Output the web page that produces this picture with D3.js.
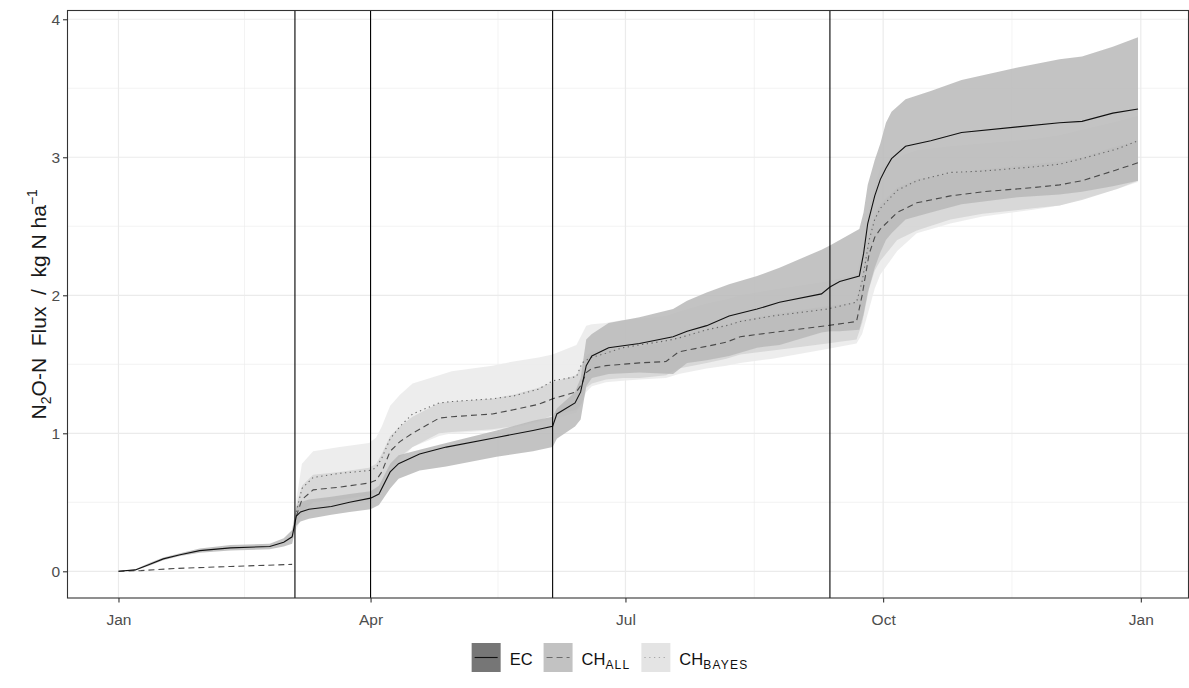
<!DOCTYPE html>
<html>
<head>
<meta charset="utf-8">
<script src="https://cdn.jsdelivr.net/npm/d3@7"></script>
<style>
  body { margin: 0; background: #fff; }
  svg { display: block; font-family: "Liberation Sans", Arial, sans-serif; }
</style>
</head>
<body>
<svg id="chart" width="1189" height="688"></svg>
<script>
// ---- data (day of year 2017, cumulative N2O-N flux in kg N/ha) ----
const ecDay = [0, 6, 11, 16, 22, 29, 40, 54, 59, 62, 63.5, 65, 68, 76, 82.5, 90, 93, 97, 100, 107.5,
  117, 135, 148, 155, 156.5, 163, 165, 167, 169, 175, 186, 198, 203, 210, 218, 228, 236, 251, 254,
  257.5, 264.5, 266, 267.5, 270, 272, 274, 276, 281, 290, 301, 321, 336, 344, 355, 364];
const ecMid = [0, 0.01, 0.05, 0.09, 0.12, 0.15, 0.17, 0.18, 0.21, 0.25, 0.40, 0.43, 0.45, 0.47, 0.50, 0.53, 0.56, 0.72, 0.78, 0.85,
  0.90, 0.97, 1.02, 1.05, 1.14, 1.22, 1.30, 1.49, 1.56, 1.62, 1.65, 1.70, 1.74, 1.78, 1.85, 1.90, 1.95, 2.01, 2.06,
  2.10, 2.14, 2.30, 2.52, 2.72, 2.84, 2.92, 2.99, 3.08, 3.12, 3.18, 3.22, 3.25, 3.26, 3.32, 3.35];
const ecLo = [0, 0.005, 0.04, 0.08, 0.11, 0.135, 0.15, 0.16, 0.18, 0.20, 0.33, 0.36, 0.38, 0.41, 0.43, 0.45, 0.48, 0.60, 0.67, 0.73,
  0.76, 0.83, 0.87, 0.90, 0.96, 1.05, 1.10, 1.34, 1.40, 1.43, 1.44, 1.43, 1.51, 1.53, 1.56, 1.62, 1.64, 1.73, 1.74,
  1.74, 1.75, 1.86, 2.02, 2.20, 2.31, 2.40, 2.45, 2.55, 2.60, 2.66, 2.71, 2.73, 2.75, 2.79, 2.83];
const ecHi = [0, 0.015, 0.06, 0.10, 0.13, 0.165, 0.19, 0.20, 0.24, 0.30, 0.47, 0.50, 0.52, 0.54, 0.56, 0.58, 0.62, 0.78, 0.84, 0.88,
  0.93, 1.02, 1.09, 1.12, 1.18, 1.30, 1.40, 1.68, 1.72, 1.80, 1.84, 1.90, 1.96, 2.02, 2.08, 2.14, 2.20, 2.33, 2.36,
  2.40, 2.48, 2.60, 2.80, 2.98, 3.10, 3.25, 3.33, 3.42, 3.48, 3.56, 3.65, 3.71, 3.73, 3.80, 3.87];

// chamber estimates; null = no value (gap at the first fertilisation)
const chDay = [0, 8, 20, 40, 62, 62.8, 63.5, 65.5, 69.5, 79, 89.5, 92, 94, 97, 100.5, 105, 114.5, 119, 133.5,
  141, 150, 155, 163.5, 165.5, 167, 169, 174, 180, 186, 195.5, 200, 210, 217, 222, 233.5, 253, 263.5,
  265.5, 268, 270, 272, 278, 285, 297, 308.5, 326.5, 336, 344, 356.5, 364];
const allMid = [0, 0.005, 0.02, 0.035, 0.05, null, 0.40, 0.52, 0.59, 0.61, 0.64, 0.66, 0.72, 0.87, 0.94, 1.00, 1.11, 1.12, 1.14,
  1.17, 1.21, 1.25, 1.30, 1.36, 1.44, 1.47, 1.49, 1.50, 1.51, 1.52, 1.59, 1.63, 1.66, 1.70, 1.73, 1.78, 1.81,
  2.00, 2.30, 2.42, 2.48, 2.60, 2.67, 2.72, 2.75, 2.78, 2.80, 2.83, 2.91, 2.96];
const allLo = [null, null, null, null, null, null, 0.33, 0.43, 0.50, 0.52, 0.55, 0.57, 0.62, 0.75, 0.83, 0.90, 1.00, 1.01, 1.03,
  1.05, 1.09, 1.13, 1.17, 1.22, 1.33, 1.36, 1.39, 1.40, 1.40, 1.42, 1.47, 1.51, 1.54, 1.57, 1.60, 1.65, 1.68,
  1.80, 2.05, 2.18, 2.25, 2.40, 2.47, 2.55, 2.59, 2.63, 2.65, 2.69, 2.77, 2.83];
const allHi = [null, null, null, null, null, null, 0.48, 0.62, 0.70, 0.72, 0.75, 0.78, 0.85, 0.98, 1.05, 1.12, 1.22, 1.23, 1.25,
  1.28, 1.33, 1.37, 1.42, 1.50, 1.56, 1.59, 1.61, 1.62, 1.63, 1.66, 1.70, 1.75, 1.78, 1.82, 1.86, 1.92, 1.95,
  2.15, 2.45, 2.58, 2.66, 2.78, 2.84, 2.88, 2.91, 2.95, 2.97, 3.00, 3.08, 3.12];
const bayMid = [null, null, null, null, null, null, 0.43, 0.60, 0.68, 0.71, 0.73, 0.75, 0.82, 0.96, 1.05, 1.14, 1.22, 1.23, 1.25,
  1.27, 1.32, 1.38, 1.41, 1.51, 1.53, 1.55, 1.58, 1.62, 1.64, 1.67, 1.69, 1.75, 1.78, 1.81, 1.85, 1.90, 1.95,
  2.10, 2.40, 2.55, 2.63, 2.76, 2.83, 2.89, 2.90, 2.93, 2.95, 2.99, 3.06, 3.12];
const bayLo = [null, null, null, null, null, null, 0.30, 0.40, 0.45, 0.48, 0.50, 0.53, 0.60, 0.72, 0.80, 0.90, 0.98, 1.00, 1.02,
  1.04, 1.08, 1.10, 1.15, 1.22, 1.30, 1.34, 1.37, 1.38, 1.39, 1.40, 1.43, 1.47, 1.49, 1.51, 1.54, 1.61, 1.65,
  1.72, 1.90, 2.05, 2.15, 2.32, 2.45, 2.52, 2.57, 2.62, 2.65, 2.70, 2.77, 2.82];
const bayHi = [null, null, null, null, null, null, 0.52, 0.78, 0.87, 0.90, 0.93, 0.97, 1.05, 1.20, 1.28, 1.36, 1.42, 1.45, 1.49,
  1.52, 1.55, 1.57, 1.64, 1.72, 1.78, 1.79, 1.80, 1.82, 1.83, 1.85, 1.88, 1.94, 1.97, 2.00, 2.04, 2.10, 2.15,
  2.32, 2.62, 2.80, 2.92, 3.00, 3.05, 3.08, 3.10, 3.13, 3.16, 3.20, 3.26, 3.30];

// management events (vertical lines)
const eventDates = ["2017-03-05", "2017-04-01", "2017-06-05", "2017-09-12"];
const yTicks = [0, 1, 2, 3, 4];
const yMinor = [0.5, 1.5, 2.5, 3.5];

const series = [
  {key: "EC", sub: "", mid: ecMid, lo: ecLo, hi: ecHi, day: ecDay},
  {key: "CH", sub: "ALL", mid: allMid, lo: allLo, hi: allHi, day: chDay},
  {key: "CH", sub: "BAYES", mid: bayMid, lo: bayLo, hi: bayHi, day: chDay}
];
const look = [
  {fill: "#b9b9b9", op: 0.85, key: "#767676", line: "#111", dash: null, keyLine: "#111"},
  {fill: "#d2d2d2", op: 0.8, key: "#c2c2c2", line: "#4a4a4a", dash: "6,4", keyLine: "#6a6a6a"},
  {fill: "#ebebeb", op: 0.9, key: "#e4e4e4", line: "#666", dash: "1.3,3.5", keyLine: "#a8a8a8"}
];

// ---- setup ----
const svg = d3.select("#chart");
const panel = {left: 67.5, right: 1189, top: 10.5, bottom: 598};

const t0 = Date.UTC(2017, 0, 1);
const toDate = d => new Date(t0 + d * 864e5);

const dayExt = d3.extent(ecDay.concat(chDay));
const dayPad = (dayExt[1] - dayExt[0]) * 0.05;
const x = d3.scaleUtc()
    .domain([toDate(dayExt[0] - dayPad), toDate(dayExt[1] + dayPad)])
    .range([panel.left, panel.right]);

const allVals = [].concat(ecLo, ecHi, allLo, allHi, bayLo, bayHi, allMid).filter(v => v != null);
const yExt = d3.extent(allVals);
const yPad = (yExt[1] - yExt[0]) * 0.05;
const y = d3.scaleLinear()
    .domain([yExt[0] - yPad, yExt[1] + yPad])
    .range([panel.bottom, panel.top]);

svg.append("clipPath").attr("id", "clip")
  .append("rect")
    .attr("x", panel.left).attr("y", panel.top)
    .attr("width", panel.right - panel.left).attr("height", panel.bottom - panel.top);

// ---- grid ----
const xMajor = x.ticks(d3.utcMonth.every(3));
const xMinor = d3.pairs(xMajor).map(p => new Date((p[0].getTime() + p[1].getTime()) / 2));
const grid = svg.append("g").attr("clip-path", "url(#clip)");

grid.selectAll(".ymin").data(yMinor).enter().append("line")
    .attr("x1", panel.left).attr("x2", panel.right)
    .attr("y1", d => y(d)).attr("y2", d => y(d))
    .attr("stroke", "#ebebeb").attr("stroke-width", 0.6);
grid.selectAll(".xmin").data(xMinor).enter().append("line")
    .attr("x1", d => x(d)).attr("x2", d => x(d))
    .attr("y1", panel.top).attr("y2", panel.bottom)
    .attr("stroke", "#ebebeb").attr("stroke-width", 0.6);
grid.selectAll(".ymaj").data(yTicks).enter().append("line")
    .attr("x1", panel.left).attr("x2", panel.right)
    .attr("y1", d => y(d)).attr("y2", d => y(d))
    .attr("stroke", "#ebebeb").attr("stroke-width", 1.2);
grid.selectAll(".xmaj").data(xMajor).enter().append("line")
    .attr("x1", d => x(d)).attr("x2", d => x(d))
    .attr("y1", panel.top).attr("y2", panel.bottom)
    .attr("stroke", "#ebebeb").attr("stroke-width", 1.2);

// ---- ribbons & lines ----
const plot = svg.append("g").attr("clip-path", "url(#clip)");

function rows(s) {
  return s.day.map((d, i) => ({t: toDate(d), mid: s.mid[i], lo: s.lo[i], hi: s.hi[i]}));
}

const area = d3.area()
    .defined(d => d.lo != null && d.hi != null)
    .x(d => x(d.t)).y0(d => y(d.lo)).y1(d => y(d.hi));
const line = d3.line()
    .defined(d => d.mid != null)
    .x(d => x(d.t)).y(d => y(d.mid));

// lightest first, EC on top
[2, 1, 0].forEach(i => {
  plot.append("path")
      .datum(rows(series[i]))
      .attr("d", area)
      .attr("fill", look[i].fill)
      .attr("fill-opacity", look[i].op);
});

[2, 1, 0].forEach(i => {
  plot.append("path")
      .datum(rows(series[i]))
      .attr("d", line)
      .attr("fill", "none")
      .attr("stroke", look[i].line)
      .attr("stroke-width", 1.1)
      .attr("stroke-dasharray", look[i].dash);
});

plot.selectAll(".event").data(eventDates).enter().append("line")
    .attr("x1", d => x(new Date(d))).attr("x2", d => x(new Date(d)))
    .attr("y1", panel.top).attr("y2", panel.bottom)
    .attr("stroke", "#000").attr("stroke-width", 1.1);

// panel border
svg.append("rect")
    .attr("x", panel.left).attr("y", panel.top)
    .attr("width", panel.right - panel.left - 0.5).attr("height", panel.bottom - panel.top)
    .attr("fill", "none").attr("stroke", "#333").attr("stroke-width", 1.1);

// ---- axes ----
const yAxis = svg.append("g")
    .attr("transform", `translate(${panel.left},0)`)
    .call(d3.axisLeft(y).tickValues(yTicks).tickSize(4.5).tickPadding(3).tickFormat(d3.format("d")));
const xAxis = svg.append("g")
    .attr("transform", `translate(0,${panel.bottom})`)
    .call(d3.axisBottom(x).tickValues(xMajor).tickSize(4.5).tickPadding(11).tickFormat(d3.utcFormat("%b")));

[yAxis, xAxis].forEach(a => {
  a.select(".domain").remove();
  a.selectAll(".tick line").attr("stroke", "#333").attr("stroke-width", 1.1);
  a.selectAll(".tick text").attr("fill", "#4d4d4d").attr("font-size", 15.5)
      .attr("font-family", "Liberation Sans, Arial, sans-serif");
});

// y title: N2O-N Flux / kg N ha^-1
const yTitle = svg.append("text")
    .attr("transform", `translate(46,${(panel.top + panel.bottom) / 2}) rotate(-90)`)
    .attr("text-anchor", "middle")
    .attr("font-size", 21)
    .attr("fill", "#1a1a1a")
    .style("white-space", "pre");
yTitle.append("tspan").text("N");
yTitle.append("tspan").attr("font-size", 14).attr("dy", 5).text("2");
yTitle.append("tspan").attr("dy", -5).text("O-N  Flux  /  kg N ha");
yTitle.append("tspan").attr("font-size", 14).attr("dy", -9).text("\u22121");

// ---- legend ----
const legend = svg.append("g");
const keySize = 29;
let cx = 0;
series.forEach((s, i) => {
  const g = legend.append("g");
  g.append("rect").attr("x", 0).attr("y", 0).attr("width", keySize).attr("height", keySize)
      .attr("fill", look[i].key);
  g.append("line").attr("x1", 3).attr("x2", keySize - 3)
      .attr("y1", keySize / 2).attr("y2", keySize / 2)
      .attr("stroke", look[i].keyLine).attr("stroke-width", 1.1)
      .attr("stroke-dasharray", look[i].dash);
  const t = g.append("text").attr("x", keySize + 9).attr("y", keySize / 2 + 7)
      .attr("font-size", 16.5).attr("fill", "#111");
  t.append("tspan").text(s.key);
  if (s.sub) t.append("tspan").attr("font-size", 12).attr("dy", 4)
      .attr("letter-spacing", 1.2).text(s.sub);
  g.attr("transform", `translate(${cx},0)`);
  const w = keySize + 9 + t.node().getComputedTextLength();
  cx += w + 11;
});
const legendWidth = cx - 11;
legend.attr("transform", `translate(${610 - legendWidth / 2},643)`);
</script>
</body>
</html>
